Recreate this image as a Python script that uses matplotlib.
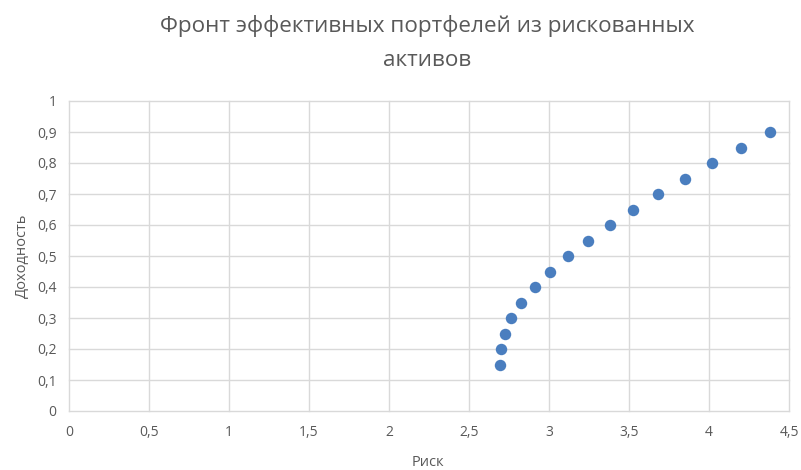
import matplotlib
matplotlib.use("Agg")
import matplotlib.pyplot as plt

plt.rcParams['font.family'] = ['Open Sans', 'DejaVu Sans']

# Efficient frontier points: risk (std. dev.) vs expected return
risk = [2.696, 2.697, 2.723, 2.765, 2.827, 2.91, 3.004, 3.116,
        3.243, 3.381, 3.526, 3.684, 3.850, 4.021, 4.20, 4.382]
ret = [0.15, 0.20, 0.25, 0.30, 0.35, 0.40, 0.45, 0.50,
       0.55, 0.60, 0.65, 0.70, 0.75, 0.80, 0.85, 0.90]

x_ticks = [0, 0.5, 1, 1.5, 2, 2.5, 3, 3.5, 4, 4.5]
y_ticks = [0, 0.1, 0.2, 0.3, 0.4, 0.5, 0.6, 0.7, 0.8, 0.9, 1]

title_lines = ["Фронт эффективных портфелей из рискованных", "активов"]
x_label = "Риск"
y_label = "Доходность"

text_color = "#595959"
grid_color = "#d9d9d9"
marker_color = "#4a7ebf"

W, H = 801, 470
fig = plt.figure(figsize=(W / 100, H / 100), dpi=100)
ax = fig.add_axes([69 / W, 1 - 411 / H, (789 - 69) / W, (411 - 101) / H])

ax.scatter(risk, ret, s=68, color=marker_color, zorder=3, linewidths=0)

ax.set_xlim(0, 4.5)
ax.set_ylim(0, 1)
ax.set_xticks(x_ticks)
ax.set_yticks(y_ticks)


def fmt(v):
    return f"{v:g}".replace(".", ",")


ax.set_xticklabels([fmt(v) for v in x_ticks])
ax.set_yticklabels([fmt(v) for v in y_ticks])
ax.tick_params(length=0, colors=text_color, labelsize=10, pad=10)
ax.tick_params(axis='y', pad=9)

for s in ax.spines.values():
    s.set_visible(False)
ax.grid(True, color=grid_color, linewidth=1)
for gl in ax.get_xgridlines() + ax.get_ygridlines():
    gl.set_clip_on(False)
ax.set_axisbelow(True)

fig.text(427 / W, 1 - 26 / H, title_lines[0],
         ha='center', va='center', fontsize=16.2, color=text_color)
fig.text(427 / W, 1 - 60 / H, title_lines[1],
         ha='center', va='center', fontsize=16.2, color=text_color)

fig.text(428 / W, 1 - 463 / H, x_label, ha='center', va='center',
         fontsize=10.5, color=text_color)
fig.text(22 / W, 1 - 256 / H, y_label, ha='center', va='center',
         rotation=90, fontsize=10.5, color=text_color)

fig.savefig("out.png", dpi=100)
